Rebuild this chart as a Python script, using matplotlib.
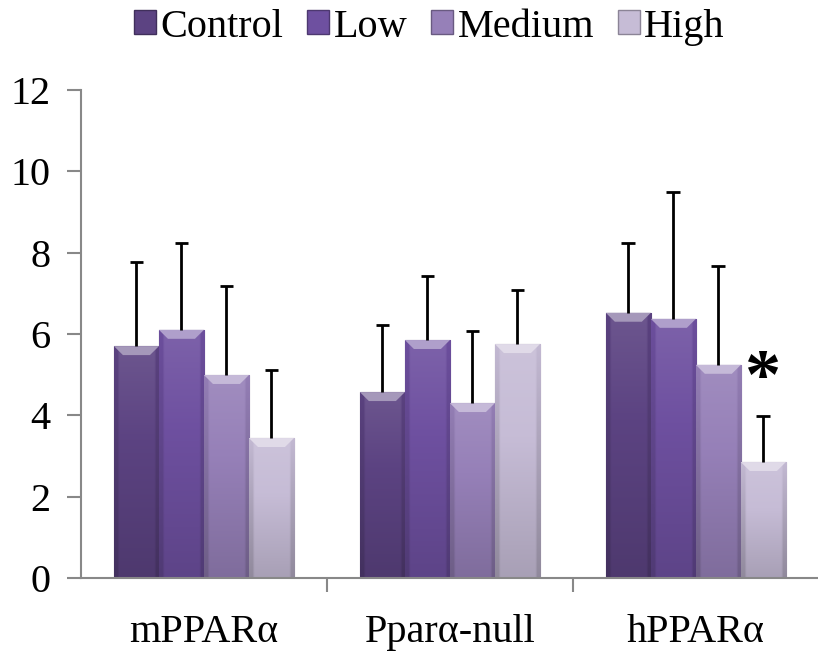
import numpy as np
import matplotlib
matplotlib.use("Agg")
import matplotlib.pyplot as plt
from matplotlib.patches import Patch
from matplotlib.colors import to_rgb

plt.rcParams['font.family'] = ['Liberation Serif', 'DejaVu Serif']

groups = ['mPPAR\u03b1', 'Ppar\u03b1-null', 'hPPAR\u03b1']
series = ['Control', 'Low', 'Medium', 'High']
control = [5.70, 4.57, 6.52]
low = [6.10, 5.85, 6.37]
medium = [4.99, 4.30, 5.24]
high = [3.44, 5.75, 2.85]
control_err = [2.07, 1.65, 1.72]
low_err = [2.14, 1.58, 3.12]
medium_err = [2.19, 1.77, 2.43]
high_err = [1.67, 1.33, 1.13]
colors = ['#5c4382', '#6e50a0', '#9680b8', '#c6bcd6']

values = [control, low, medium, high]
errors = [control_err, low_err, medium_err, high_err]

fig = plt.figure(figsize=(8.18, 6.58), dpi=100)
ax = fig.add_axes([0.099, 0.1216, 0.902, 0.7418])

x = np.arange(len(groups))
w = 0.183


def shade(c, f):
    r, g, b = to_rgb(c)
    if f >= 0:
        return (r + (1 - r) * f, g + (1 - g) * f, b + (1 - b) * f)
    return (r * (1 + f), g * (1 + f), b * (1 + f))


for i in range(len(series)):
    pos = x + (i - 1.5) * w
    bars = ax.bar(pos, values[i], w, color=colors[i], edgecolor=shade(colors[i], -0.35),
                  linewidth=0.8, zorder=2, label=series[i])
    # upper error bars only
    tops = np.array(values[i]) + np.array(errors[i])
    ax.vlines(pos, values[i], tops, color='black', linewidth=2, zorder=4)
    ax.hlines(tops, pos - 0.028, pos + 0.028, color='black', linewidth=2, zorder=4)
    # vertical gradient + side shading inside each bar
    grad = np.zeros((50, 20, 3))
    for r in range(50):
        for c in range(20):
            t = r / 49.0
            side = 0.0
            if c < 2 or c > 17:
                side = -0.12
            grad[r, c] = shade(colors[i], 0.10 - 0.25 * t + side)
    for b in bars:
        bx, by = b.get_x(), b.get_y()
        bw, bh = b.get_width(), b.get_height()
        im = ax.imshow(grad, extent=[bx, bx + bw, by, by + bh], origin='upper',
                       aspect='auto', zorder=2.5, interpolation='bilinear')
        im.set_clip_path(b)
        # bevel highlight on top
        ax.fill([bx, bx + bw, bx + bw * 0.8, bx + bw * 0.2],
                [bh, bh, bh - 0.22, bh - 0.22],
                color=shade(colors[i], 0.45), zorder=3, linewidth=0)

ax.text(x[2] + 1.5 * w, 4.85, '*', fontsize=52, fontweight='bold',
        ha='center', va='center', zorder=5)

ax.set_xlim(-0.5, 2.5)
ax.set_ylim(0, 12)
ax.set_yticks([0, 2, 4, 6, 8, 10, 12])
ax.set_xticks(x)
ax.set_xticklabels(groups, fontsize=29)
ax.tick_params(axis='x', length=0, pad=26)
ax.set_xticks([0.5, 1.5], minor=True)
ax.tick_params(axis='x', which='minor', length=10, color='#888888', width=1.5)
ax.tick_params(axis='y', labelsize=29, length=10, color='#888888', width=1.5, pad=12)
for s in ['top', 'right']:
    ax.spines[s].set_visible(False)
for s in ['left', 'bottom']:
    ax.spines[s].set_color('#888888')
    ax.spines[s].set_linewidth(1.5)

handles = [Patch(facecolor=colors[i], edgecolor=shade(colors[i], -0.3)) for i in range(4)]
fig.legend(handles, series, loc='upper center', bbox_to_anchor=(0.525, 1.042), ncol=4,
           frameon=False, fontsize=29, handlelength=0.55, handleheight=0.55,
           handletextpad=0.1, columnspacing=0.6)

fig.savefig('out.png', dpi=100)
